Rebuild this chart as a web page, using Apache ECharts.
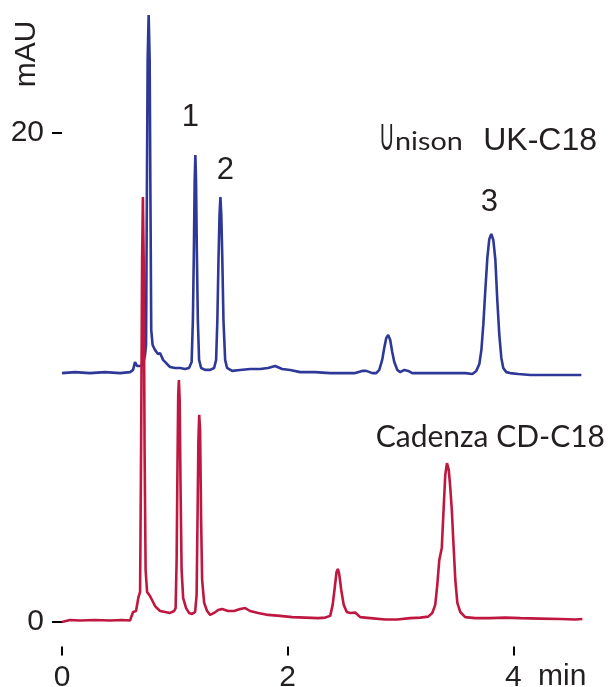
<!DOCTYPE html>
<html>
<head>
<meta charset="utf-8">
<script src="https://cdn.jsdelivr.net/npm/echarts@6/dist/echarts.min.js"></script>
<style>
html,body{margin:0;padding:0;background:#fff;}
#chart{width:609px;height:687px;}
</style>
</head>
<body>
<div id="chart"></div>
<script>
// ---- DATA ----
// x ticks (min) and y ticks (mAU)
var xTicks = [0, 2, 4];
var yTicks = [0, 20];

// Unison UK-C18 chromatogram [time (min), signal (mAU)]
var unisonTrace = [
  [0.000,10.18],[0.115,10.22],[0.248,10.18],[0.381,10.22],[0.514,10.18],[0.603,10.22],
  [0.630,10.31],[0.647,10.63],[0.665,10.47],[0.692,10.47],[0.718,10.55],[0.736,10.92],
  [0.745,11.33],[0.752,17.26],[0.759,22.99],[0.768,24.83],[0.777,22.99],[0.784,17.26],
  [0.791,11.94],[0.803,11.33],[0.825,11.12],[0.851,10.96],[0.869,11.00],[0.896,10.72],
  [0.932,10.55],[0.958,10.43],[1.002,10.39],[1.047,10.39],[1.091,10.35],[1.126,10.39],
  [1.149,10.63],[1.160,12.35],[1.169,15.21],[1.176,18.08],[1.182,19.10],[1.188,18.08],
  [1.195,15.21],[1.204,12.35],[1.215,10.72],[1.233,10.39],[1.268,10.31],[1.313,10.31],
  [1.348,10.39],[1.366,10.72],[1.377,12.35],[1.387,14.81],[1.396,16.65],[1.404,17.38],
  [1.412,16.65],[1.421,14.81],[1.431,12.35],[1.446,10.72],[1.463,10.39],[1.508,10.27],
  [1.579,10.31],[1.667,10.35],[1.756,10.35],[1.827,10.39],[1.889,10.47],[1.951,10.35],
  [2.022,10.31],[2.111,10.22],[2.244,10.22],[2.377,10.18],[2.510,10.18],[2.599,10.18],
  [2.661,10.27],[2.697,10.27],[2.750,10.18],[2.785,10.18],[2.812,10.31],[2.838,10.72],
  [2.856,11.21],[2.874,11.62],[2.891,11.74],[2.909,11.53],[2.927,11.04],[2.945,10.63],
  [2.972,10.31],[2.998,10.22],[3.034,10.31],[3.069,10.27],[3.104,10.18],[3.220,10.18],
  [3.353,10.18],[3.486,10.18],[3.575,10.18],[3.637,10.14],[3.672,10.27],[3.699,10.55],
  [3.717,11.12],[3.734,12.15],[3.752,13.58],[3.770,14.89],[3.787,15.66],[3.805,15.87],
  [3.823,15.62],[3.841,14.81],[3.858,13.17],[3.876,11.74],[3.894,10.80],[3.911,10.39],
  [3.938,10.22],[3.973,10.18],[4.044,10.14],[4.151,10.10],[4.284,10.10],[4.417,10.10],
  [4.506,10.10],[4.603,10.10]
];

// Cadenza CD-C18 chromatogram [time (min), signal (mAU)]
var cadenzaTrace = [
  [0.000,0.00],[0.071,0.08],[0.160,0.06],[0.293,0.08],[0.426,0.06],[0.532,0.08],
  [0.603,0.06],[0.630,0.41],[0.656,0.45],[0.678,1.02],[0.692,1.23],[0.701,7.03],
  [0.710,14.81],[0.717,17.38],[0.724,14.81],[0.732,7.03],[0.741,2.13],[0.754,1.23],
  [0.780,1.06],[0.798,0.90],[0.825,0.65],[0.869,0.45],[0.914,0.41],[0.958,0.37],
  [0.994,0.45],[1.007,0.57],[1.016,2.54],[1.024,6.63],[1.030,9.28],[1.036,9.90],
  [1.043,9.08],[1.050,5.81],[1.060,2.13],[1.074,0.98],[1.100,0.57],[1.126,0.37],
  [1.153,0.33],[1.180,0.41],[1.193,1.10],[1.202,4.58],[1.209,7.44],[1.216,8.47],
  [1.224,7.85],[1.233,4.17],[1.242,1.72],[1.260,0.78],[1.286,0.45],[1.313,0.29],
  [1.348,0.37],[1.384,0.49],[1.419,0.53],[1.472,0.45],[1.525,0.45],[1.579,0.53],
  [1.623,0.57],[1.667,0.45],[1.738,0.37],[1.827,0.29],[1.933,0.25],[2.040,0.20],
  [2.155,0.18],[2.271,0.16],[2.333,0.18],[2.377,0.25],[2.399,0.70],[2.417,1.39],
  [2.433,2.04],[2.445,2.17],[2.457,1.96],[2.475,1.31],[2.497,0.70],[2.524,0.41],
  [2.555,0.37],[2.599,0.39],[2.643,0.20],[2.732,0.16],[2.865,0.10],[2.971,0.10],
  [3.086,0.16],[3.175,0.18],[3.246,0.22],[3.282,0.37],[3.308,0.70],[3.326,1.51],
  [3.344,2.54],[3.366,3.03],[3.384,4.79],[3.397,6.01],[3.412,6.50],[3.428,6.22],
  [3.441,5.52],[3.455,4.58],[3.468,3.35],[3.486,1.72],[3.504,0.78],[3.530,0.41],
  [3.574,0.20],[3.663,0.16],[3.796,0.16],[3.929,0.18],[4.062,0.16],[4.240,0.14],
  [4.417,0.12],[4.550,0.10],[4.612,0.12]
];

// Peak numbers on the Unison trace
var peakNames = ['1', '2', '3'];
var peakTimes = [1.182, 1.404, 3.805];
var peakHeights = [19.10, 17.38, 15.87];
var peakLabelOffsets = [[-5, -38], [5, -27], [-2, -32]];

// ---- CHART ----
var TEXT = '#231f20';
var chart = echarts.init(document.getElementById('chart'));

var markData = peakNames.map(function (n, i) {
  return {
    name: n,
    coord: [peakTimes[i], peakHeights[i]],
    label: { offset: peakLabelOffsets[i] }
  };
});

chart.setOption({
  animation: false,
  backgroundColor: '#ffffff',
  grid: { left: 62, right: 28, top: 10.75, bottom: 40.55, containLabel: false, outerBoundsMode: 'none' },
  xAxis: {
    type: 'value', min: 0, max: 4.6,
    axisLine: { show: false, onZero: false },
    splitLine: { show: false },
    axisTick: { show: true, length: 9, customValues: xTicks, lineStyle: { color: '#000', width: 2 } },
    axisLabel: { customValues: xTicks, margin: 16, fontSize: 30, fontFamily: 'Liberation Sans', color: TEXT }
  },
  yAxis: {
    type: 'value', min: -1, max: 25,
    axisLine: { show: false, onZero: false },
    splitLine: { show: false },
    axisTick: { show: true, length: 10, customValues: yTicks, lineStyle: { color: '#000', width: 2 } },
    axisLabel: { customValues: yTicks, margin: 18, fontSize: 30, fontFamily: 'Liberation Sans', color: TEXT }
  },
  series: [
    {
      name: 'Unison UK-C18', type: 'line', data: unisonTrace,
      showSymbol: false, symbol: 'none',
      lineStyle: { color: '#2e3896', width: 2.6 },
      itemStyle: { color: '#2e3896' },
      z: 2,
      markPoint: {
        symbol: 'circle', symbolSize: 1,
        itemStyle: { color: 'transparent' },
        label: {
          show: true, position: 'inside', formatter: '{b}',
          fontSize: 31, fontFamily: 'Liberation Sans', color: TEXT
        },
        data: markData
      }
    },
    {
      name: 'Cadenza CD-C18', type: 'line', data: cadenzaTrace,
      showSymbol: false, symbol: 'none',
      lineStyle: { color: '#bf1840', width: 2.6 },
      itemStyle: { color: '#bf1840' },
      z: 3
    }
  ],
  graphic: [
    {
      type: 'text', x: 27, y: 54, rotation: Math.PI / 2,
      style: { text: 'mAU', fontSize: 30, fontFamily: 'Liberation Sans', fill: TEXT, align: 'center', verticalAlign: 'middle' }
    },
    {
      type: 'text', x: 538, y: 662,
      style: { text: 'min', fontSize: 30, fontFamily: 'Liberation Sans', fill: TEXT, align: 'left', verticalAlign: 'top' }
    },
    {
      type: 'text', x: 380, y: 137.7, scaleX: 0.5,
      style: { text: 'U', fontSize: 37, fontFamily: 'Lato', fill: TEXT, align: 'left', verticalAlign: 'middle' }
    },
    {
      type: 'text', x: 395, y: 142.3, scaleX: 1.15,
      style: { text: 'nison', fontSize: 25, fontFamily: 'Lato', fill: TEXT, align: 'left', verticalAlign: 'middle' }
    },
    {
      type: 'text', x: 597, y: 140.9,
      style: { text: 'UK-C18', fontSize: 32, fontFamily: 'Liberation Sans', fill: TEXT, align: 'right', verticalAlign: 'middle' }
    },
    {
      type: 'text', x: 605, y: 437.5,
      style: { text: 'Cadenza CD-C18', fontSize: 30, fontFamily: 'Lato', fill: TEXT, align: 'right', verticalAlign: 'middle' }
    }
  ]
});
</script>
</body>
</html>
